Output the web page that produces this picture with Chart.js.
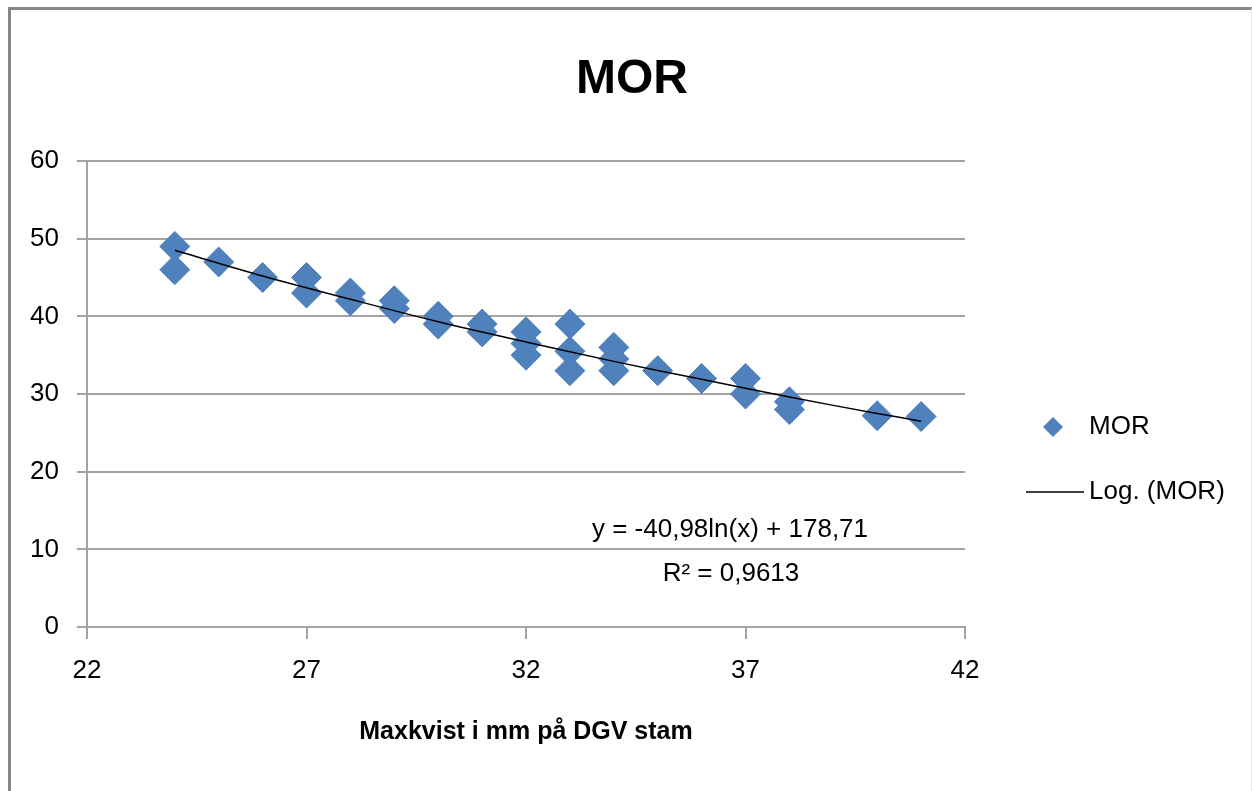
<!DOCTYPE html>
<html>
<head>
<meta charset="utf-8">
<script src="https://cdn.jsdelivr.net/npm/chart.js@4/dist/chart.umd.min.js"></script>
<style>
  html, body { margin: 0; padding: 0; background: #fff; }
  #wrap { position: relative; width: 1252px; height: 791px; overflow: hidden; }
  #frame {
    position: absolute; left: 8px; top: 7px; right: 0; bottom: -10px;
    border-left: 3px solid #878787; border-top: 3px solid #878787;
    border-right: 1px solid #e6e6e6;
  }
  canvas { position: absolute; left: 0; top: 0; }
</style>
</head>
<body>
<div id="wrap">
  <div id="frame"></div>
  <canvas id="chart" width="1252" height="791"></canvas>
</div>
<script>
// ── Data ──
const maxKvist = [24, 24, 25, 26, 27, 27, 28, 28, 29, 29, 30, 30, 31, 31, 32, 32, 32,
                  33, 33, 33, 34, 34, 34, 35, 36, 37, 37, 38, 38, 40, 41];
const morValues = [49, 46, 47, 45, 45, 43, 43, 42, 42, 41, 40, 39, 39, 38, 38, 36.5, 35,
                   39, 35.5, 33, 36, 34.5, 33, 33, 32, 32, 30, 29, 28, 27.2, 27.1];
// trend line (Log. (MOR)) as drawn
const trendX = [24, 26, 28, 30, 32, 34, 36, 38, 40, 41];
const trendY = [48.5, 45.2, 42.2, 39.3, 36.7, 34.2, 31.9, 29.6, 27.5, 26.5];

const xTicks = [22, 27, 32, 37, 42];
const yTicks = [0, 10, 20, 30, 40, 50, 60];
const chartTitle = 'MOR';
const equationLines = ['y = -40,98ln(x) + 178,71', 'R² = 0,9613'];

const FONT = "'Liberation Sans', Arial, sans-serif";
const BLUE = '#4F81BD';
const GRID = '#a3a3a3';

const zip = (xs, ys) => xs.map((x, i) => ({ x, y: ys[i] }));

// title, legend + equation, placed like the Excel original
const extras = {
  id: 'extras',
  afterDraw(chart) {
    const ctx = chart.ctx;
    ctx.save();
    ctx.fillStyle = '#000';
    ctx.textBaseline = 'middle';

    // title, centred on the whole chart box
    ctx.textAlign = 'center';
    ctx.font = 'bold 48px ' + FONT;
    ctx.fillText(chartTitle, 632, 80);

    // equation label
    ctx.font = '26px ' + FONT;
    ctx.fillText(equationLines[0], 730, 530);
    ctx.fillText(equationLines[1], 731, 574);

    // legend
    ctx.textAlign = 'left';
    ctx.fillStyle = BLUE;
    ctx.beginPath();
    ctx.moveTo(1053, 417); ctx.lineTo(1063, 427);
    ctx.lineTo(1053, 437); ctx.lineTo(1043, 427);
    ctx.closePath(); ctx.fill();
    ctx.fillStyle = '#000';
    ctx.fillText(chart.data.datasets[0].label, 1089, 427);

    ctx.strokeStyle = '#000';
    ctx.lineWidth = 1.5;
    ctx.beginPath(); ctx.moveTo(1026, 492); ctx.lineTo(1084, 492); ctx.stroke();
    ctx.fillText(chart.data.datasets[1].label, 1089, 492);
    ctx.restore();
  }
};

new Chart(document.getElementById('chart'), {
  type: 'scatter',
  data: {
    datasets: [
      {
        label: 'MOR',
        data: zip(maxKvist, morValues),
        pointStyle: 'rectRot',
        pointRadius: 15,
        pointHoverRadius: 15,
        backgroundColor: BLUE,
        borderColor: BLUE,
        borderWidth: 1,
        order: 2
      },
      {
        label: 'Log. (MOR)',
        data: zip(trendX, trendY),
        showLine: true,
        pointRadius: 0,
        borderColor: '#000',
        borderWidth: 1.5,
        tension: 0.3,
        order: 1
      }
    ]
  },
  options: {
    responsive: false,
    animation: false,
    events: [],
    layout: { padding: { left: 0, right: 287, top: 161, bottom: 0 } },
    plugins: {
      legend: { display: false },
      tooltip: { enabled: false },
      title: { display: false }
    },
    scales: {
      x: {
        type: 'linear',
        min: 22, max: 42,
        afterBuildTicks: s => { s.ticks = xTicks.map(v => ({ value: v })); },
        afterFit: s => { s.height = 164; },
        border: { display: true, color: GRID, width: 2 },
        grid: { drawOnChartArea: false, drawTicks: true, tickLength: 12, color: GRID, lineWidth: 2 },
        ticks: { color: '#000', padding: 16, font: { family: FONT, size: 26 }, maxRotation: 0 },
        title: {
          display: true,
          text: 'Maxkvist i mm på DGV stam',
          color: '#000',
          font: { family: FONT, size: 25, weight: 'bold', lineHeight: 1.2 },
          padding: { top: 0, bottom: 44 }
        }
      },
      y: {
        min: 0, max: 60,
        afterBuildTicks: s => { s.ticks = yTicks.map(v => ({ value: v })); },
        afterFit: s => { s.width = 87; },
        border: { display: true, color: GRID, width: 2 },
        grid: { color: GRID, lineWidth: 2, tickLength: 10 },
        ticks: { color: '#000', padding: 18, font: { family: FONT, size: 26 } }
      }
    }
  },
  plugins: [extras]
});
</script>
</body>
</html>
